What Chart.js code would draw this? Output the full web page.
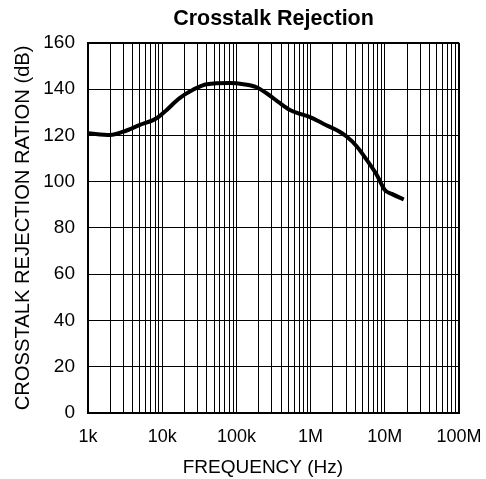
<!DOCTYPE html>
<html>
<head>
<meta charset="utf-8">
<title>Crosstalk Rejection</title>
<script src="https://cdn.jsdelivr.net/npm/chart.js@4/dist/chart.umd.min.js"></script>
<style>
  html, body { margin: 0; padding: 0; background: #fff; }
  #chart { display: block; }
</style>
</head>
<body>
<canvas id="chart" width="486" height="479"></canvas>
<script>
// frequency (Hz) and rejection (dB)
const freqHz = [1000, 2000, 3000, 5000, 8400, 11500, 17000, 26000, 40000, 82000,
  124000, 187000, 255000, 387000, 528000, 720000, 980000, 1480000, 2200000,
  3060000, 4200000, 5700000, 7800000, 10000000, 12400000, 18000000];
const rejectionDb = [120.9, 120.2, 121.6, 124.5, 127.4, 131, 136, 139.7, 142.1, 142.6,
  142.1, 140.8, 138.2, 133.9, 131, 129.3, 127.9, 125, 122.4, 119.5,
  115.2, 109.4, 102.9, 96.4, 94.7, 92.3];

// decade labels on the frequency axis
const decadeValues = [1e3, 1e4, 1e5, 1e6, 1e7, 1e8];
const decadeLabels = ['1k', '10k', '100k', '1M', '10M', '100M'];

const font = "'Liberation Sans', Arial, Helvetica, sans-serif";

// 1..9 in every decade so the log grid gets its minor lines
const logGridTicks = () => {
  const ticks = [];
  for (let e = 3; e < 8; e++) {
    for (let m = 1; m <= 9; m++) ticks.push({ value: m * Math.pow(10, e) });
  }
  ticks.push({ value: 1e8 });
  return ticks;
};

new Chart(document.getElementById('chart'), {
  type: 'line',
  data: {
    datasets: [{
      data: freqHz.map((f, i) => ({ x: f, y: rejectionDb[i] })),
      borderColor: '#000',
      borderWidth: 4,
      pointRadius: 0,
      fill: false,
      cubicInterpolationMode: 'monotone'
    }]
  },
  options: {
    responsive: false,
    animation: false,
    layout: { padding: { left: 0, right: 27, top: 0, bottom: 0 } },
    plugins: {
      legend: { display: false },
      tooltip: { enabled: false },
      title: {
        display: true,
        fullSize: false,
        text: 'Crosstalk Rejection',
        color: '#000',
        font: { family: font, size: 21.5, weight: 'bold', lineHeight: 1.2 },
        padding: { top: 6, bottom: 11 }
      }
    },
    scales: {
      x: {
        type: 'logarithmic',
        min: 1e3,
        max: 1e8,
        afterBuildTicks: (scale) => { scale.ticks = logGridTicks(); },
        afterFit: (scale) => {
          scale.height = 66;
          scale.paddingLeft = 0;
          scale.paddingRight = 0;
        },
        ticks: {
          autoSkip: false,
          maxRotation: 0,
          padding: 13,
          color: '#000',
          font: { family: font, size: 18 },
          callback: (value) => {
            const i = decadeValues.findIndex(d => Math.abs(d - value) < d * 1e-6);
            return i >= 0 ? decadeLabels[i] : '';
          }
        },
        grid: {
          color: '#000',
          lineWidth: (ctx) => (ctx.index === 45 ? 2 : 1),
          drawTicks: false
        },
        border: { color: '#000', width: 2 },
        title: {
          display: true,
          // trailing spaces pull the centred title a little to the left
          text: 'FREQUENCY (Hz)\u00a0\u00a0\u00a0\u00a0',
          color: '#000',
          font: { family: font, size: 19, lineHeight: 1.2 },
          padding: { top: 0, bottom: 0 }
        }
      },
      y: {
        min: 0,
        max: 160,
        afterFit: (scale) => {
          scale.width = 88;
          scale.paddingTop = 0;
          scale.paddingBottom = 0;
        },
        ticks: {
          stepSize: 20,
          padding: 13,
          color: '#000',
          font: { family: font, size: 19 }
        },
        grid: {
          color: '#000',
          lineWidth: (ctx) => (ctx.tick && ctx.tick.value === 160 ? 2 : 1),
          drawTicks: false
        },
        border: { color: '#000', width: 2 },
        title: {
          display: true,
          text: 'CROSSTALK REJECTION RATION (dB)',
          color: '#000',
          font: { family: font, size: 20.2, lineHeight: 1.2 },
          padding: { top: 11, bottom: 0 }
        }
      }
    }
  }
});
</script>
</body>
</html>
